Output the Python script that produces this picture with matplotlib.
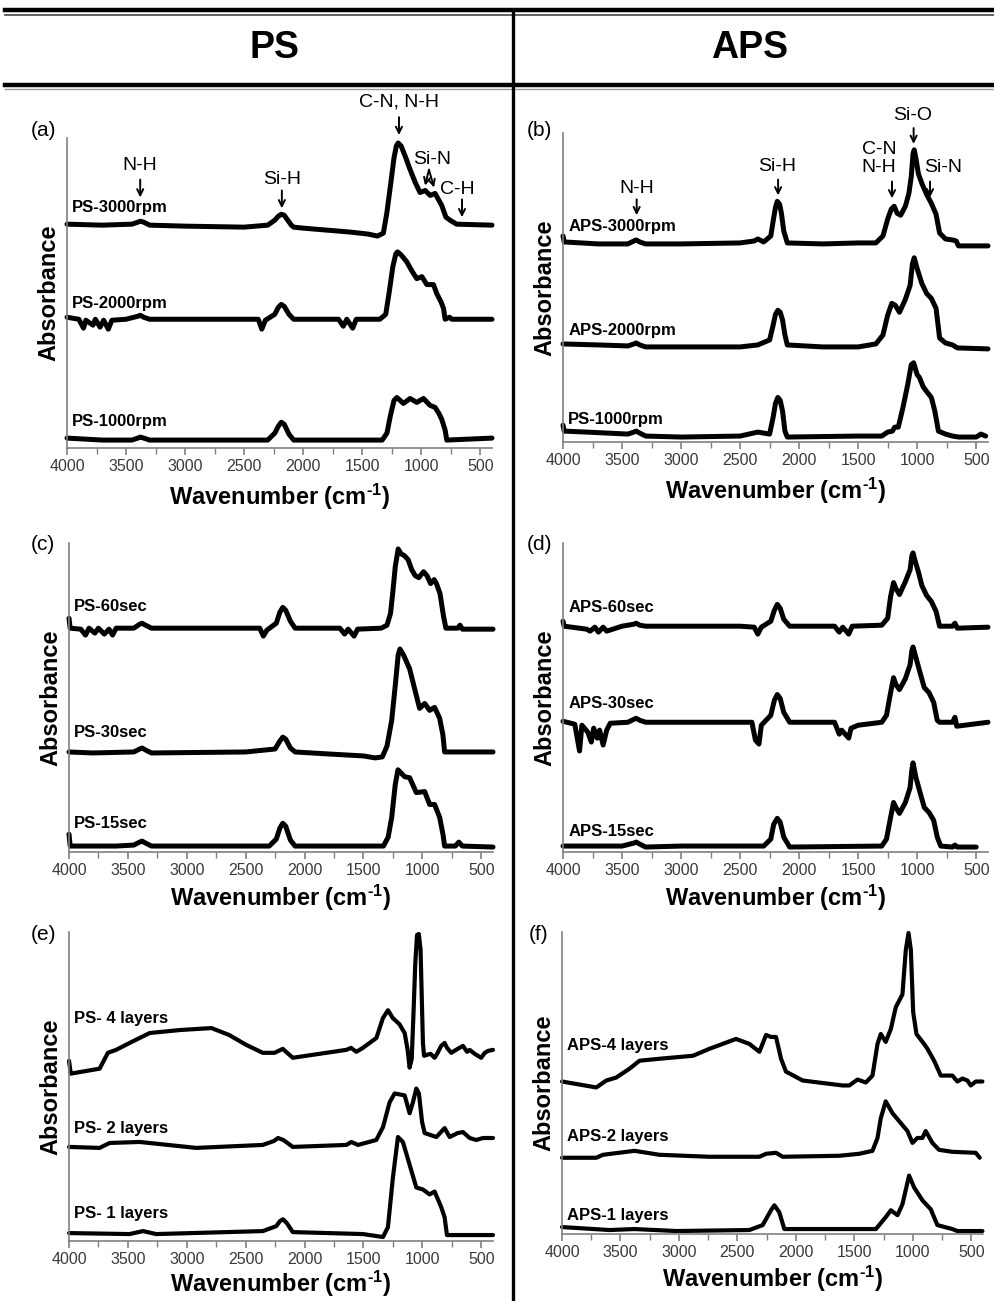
import numpy as np
import matplotlib
matplotlib.use("Agg")
import matplotlib.pyplot as plt
from matplotlib.lines import Line2D
from matplotlib.ticker import MultipleLocator

plt.rcParams['font.family'] = ['Liberation Sans', 'DejaVu Sans']
plt.rcParams['mathtext.fontset'] = 'custom'
plt.rcParams['mathtext.rm'] = 'Liberation Sans:bold'
plt.rcParams['mathtext.bf'] = 'Liberation Sans:bold'
plt.rcParams['mathtext.default'] = 'bf'

# spectra: (wavenumber cm-1, absorbance in arbitrary offset units)
# (a) PS, spin speed
ps_3000rpm = [(4000, 223), (3700, 222), (3450, 223), (3400, 225), (3380, 226), (3350, 225), (3300, 222),
              (3000, 221), (2500, 220), (2300, 222), (2240, 227), (2210, 231), (2185, 233), (2160, 232),
              (2130, 227), (2100, 222), (2080, 220), (2000, 219), (1800, 217), (1600, 215), (1450, 213),
              (1370, 211), (1320, 214), (1290, 235), (1260, 262), (1230, 290), (1210, 302), (1195, 305),
              (1170, 302), (1130, 290), (1100, 280), (1050, 265), (1010, 255), (966, 257), (924, 252),
              (882, 254), (826, 242), (790, 230), (755, 227), (700, 223), (400, 222)]
ps_2000rpm = [(4000, 129), (3900, 127), (3860, 118), (3840, 126), (3780, 121), (3760, 127), (3720, 119),
              (3690, 126), (3650, 117), (3620, 126), (3500, 127), (3400, 130), (3380, 131), (3350, 129),
              (3300, 127), (2500, 127), (2380, 127), (2350, 117), (2320, 126), (2240, 132), (2210, 139),
              (2185, 142), (2160, 140), (2120, 132), (2080, 127), (1700, 127), (1660, 120), (1630, 127),
              (1580, 118), (1550, 127), (1350, 127), (1300, 132), (1270, 155), (1240, 180), (1215, 193),
              (1200, 195), (1170, 192), (1122, 185), (1080, 176), (1037, 168), (994, 170), (952, 162),
              (896, 162), (868, 153), (830, 144), (811, 138), (797, 127), (760, 129), (740, 127), (400, 127)]
ps_1000rpm = [(4000, 7), (3700, 5), (3450, 5), (3400, 7), (3380, 8), (3350, 7), (3300, 5), (2300, 5),
              (2240, 12), (2210, 19), (2185, 23), (2160, 21), (2120, 11), (2080, 5), (1330, 5), (1290, 12),
              (1260, 30), (1230, 45), (1206, 48), (1150, 42), (1094, 47), (1037, 43), (981, 47), (924, 40),
              (882, 38), (850, 32), (826, 26), (797, 15), (783, 5), (400, 7)]

# (b) APS, spin speed
aps_3000rpm = [(4000, 205), (3990, 199), (3700, 197), (3450, 197), (3400, 200), (3380, 201), (3350, 199),
               (3300, 197), (3000, 197), (2500, 198), (2380, 200), (2350, 202), (2300, 199), (2240, 205),
               (2220, 220), (2200, 234), (2185, 240), (2165, 237), (2150, 228), (2130, 210), (2100, 198),
               (1800, 197), (1500, 198), (1350, 198), (1290, 205), (1250, 222), (1220, 232), (1195, 235),
               (1170, 228), (1140, 226), (1100, 235), (1070, 248), (1050, 265), (1035, 288), (1025, 292),
               (1010, 283), (990, 268), (960, 258), (920, 247), (880, 238), (840, 227), (810, 208),
               (760, 202), (700, 201), (670, 200), (650, 195), (400, 195)]
aps_2000rpm = [(4000, 96), (3700, 95), (3450, 94), (3400, 96), (3380, 97), (3350, 95), (3300, 93), (3000, 93),
               (2500, 93), (2350, 95), (2250, 100), (2220, 115), (2200, 126), (2180, 130), (2160, 128),
               (2140, 120), (2120, 105), (2100, 95), (1800, 93), (1500, 93), (1350, 96), (1290, 105),
               (1250, 125), (1215, 137), (1185, 135), (1150, 128), (1100, 141), (1060, 155), (1040, 177),
               (1025, 183), (1000, 172), (960, 157), (920, 147), (880, 142), (840, 132), (810, 102), (760, 97),
               (700, 95), (660, 92), (400, 91)]
ps_1000rpm_b = [(4000, 14), (3990, 8), (3800, 7), (3450, 5), (3400, 7), (3380, 8), (3350, 6), (3300, 3),
                (3000, 2), (2500, 3), (2350, 7), (2250, 5), (2220, 22), (2200, 36), (2180, 42), (2160, 39),
                (2140, 28), (2120, 8), (2100, 2), (1500, 3), (1300, 3), (1250, 7), (1210, 8), (1190, 12),
                (1160, 12), (1120, 32), (1080, 55), (1050, 75), (1030, 77), (1000, 65), (980, 62), (950, 53),
                (920, 48), (880, 42), (850, 28), (820, 8), (760, 5), (700, 3), (650, 2), (500, 2), (460, 5),
                (420, 3)]

# (c) PS, spin time
ps_60sec = [(4000, 233), (3990, 223), (3900, 222), (3860, 216), (3830, 223), (3780, 218), (3750, 223),
            (3700, 217), (3660, 222), (3630, 216), (3600, 223), (3450, 223), (3400, 227), (3380, 228),
            (3350, 226), (3300, 223), (2500, 223), (2380, 223), (2350, 215), (2320, 221), (2240, 228),
            (2210, 239), (2185, 244), (2160, 241), (2120, 230), (2080, 223), (1700, 223), (1660, 217),
            (1630, 222), (1580, 215), (1550, 222), (1350, 223), (1300, 226), (1270, 238), (1250, 260),
            (1230, 285), (1205, 303), (1180, 298), (1150, 296), (1120, 292), (1090, 282), (1060, 276),
            (1030, 274), (990, 280), (960, 276), (930, 268), (900, 272), (880, 268), (850, 258), (820, 235),
            (800, 223), (700, 223), (680, 226), (660, 222), (400, 222)]
ps_30sec = [(4000, 98), (3800, 97), (3450, 98), (3400, 101), (3380, 102), (3350, 100), (3300, 97), (2500, 98),
            (2250, 101), (2210, 109), (2185, 113), (2160, 111), (2120, 102), (2080, 98), (1800, 96), (1500, 94),
            (1400, 92), (1340, 93), (1300, 104), (1260, 130), (1230, 165), (1205, 196), (1190, 202),
            (1160, 196), (1108, 182), (1051, 155), (1023, 142), (980, 147), (938, 140), (896, 143), (853, 132),
            (825, 115), (811, 98), (400, 98)]
ps_15sec = [(4000, 15), (3990, 3), (3600, 3), (3450, 4), (3400, 7), (3380, 8), (3350, 6), (3300, 3), (2300, 3),
            (2240, 10), (2210, 21), (2185, 26), (2160, 23), (2120, 9), (2080, 3), (1330, 3), (1290, 12),
            (1260, 32), (1230, 65), (1207, 80), (1150, 73), (1108, 72), (1051, 57), (980, 58), (938, 45),
            (896, 45), (853, 32), (825, 15), (811, 3), (720, 3), (690, 7), (660, 3), (400, 2)]

# (d) APS, spin time
aps_60sec = [(4000, 230), (3990, 225), (3800, 222), (3770, 220), (3730, 224), (3700, 219), (3660, 224),
             (3630, 220), (3500, 225), (3400, 227), (3380, 228), (3350, 226), (3300, 225), (2500, 225),
             (2380, 224), (2350, 217), (2320, 224), (2240, 230), (2210, 241), (2185, 247), (2160, 243),
             (2130, 232), (2080, 225), (1700, 225), (1660, 219), (1630, 224), (1580, 217), (1550, 225),
             (1300, 226), (1250, 233), (1225, 255), (1200, 269), (1180, 263), (1150, 257), (1100, 270),
             (1060, 282), (1045, 296), (1035, 299), (1020, 292), (990, 280), (960, 266), (920, 256),
             (880, 250), (840, 240), (810, 225), (700, 225), (680, 228), (660, 223), (400, 224)]
aps_30sec = [(4000, 129), (3900, 126), (3860, 99), (3840, 125), (3790, 118), (3760, 108), (3740, 122),
             (3710, 112), (3690, 120), (3660, 105), (3630, 120), (3600, 127), (3450, 128), (3400, 131),
             (3380, 132), (3350, 130), (3300, 128), (2400, 128), (2370, 110), (2340, 106), (2320, 125),
             (2240, 135), (2210, 150), (2185, 156), (2160, 152), (2130, 138), (2080, 128), (1700, 128),
             (1660, 116), (1640, 120), (1580, 112), (1560, 122), (1500, 125), (1300, 128), (1260, 135),
             (1225, 158), (1200, 173), (1180, 166), (1150, 161), (1100, 172), (1060, 186), (1045, 200),
             (1035, 204), (1010, 193), (980, 180), (940, 163), (900, 158), (860, 148), (830, 130), (810, 128),
             (700, 128), (680, 133), (665, 124), (400, 128)]
aps_15sec = [(4000, 3), (3500, 3), (3400, 6), (3380, 7), (3350, 5), (3300, 2), (3000, 3), (2300, 3), (2240, 10),
             (2215, 25), (2185, 31), (2160, 27), (2130, 12), (2080, 2), (1300, 3), (1260, 10), (1225, 32),
             (1200, 47), (1180, 42), (1150, 36), (1100, 47), (1060, 62), (1045, 80), (1035, 87), (1010, 72),
             (980, 59), (940, 42), (900, 37), (860, 29), (830, 12), (800, 3), (700, 2), (680, 4), (660, 2),
             (500, 2)]

# (e) PS, number of layers
ps_4layers = [(4000, 179), (3985, 166), (3740, 171), (3670, 187), (3600, 190), (3485, 197), (3315, 207),
              (3060, 210), (2790, 212), (2640, 205), (2495, 195), (2355, 187), (2255, 187), (2185, 191),
              (2100, 182), (1930, 185), (1645, 190), (1605, 192), (1560, 188), (1505, 192), (1390, 202),
              (1335, 222), (1292, 230), (1250, 222), (1195, 216), (1150, 207), (1125, 190), (1108, 172),
              (1090, 181), (1075, 227), (1060, 277), (1045, 306), (1030, 307), (1015, 291), (1005, 244),
              (995, 197), (985, 184), (960, 185), (930, 186), (896, 182), (870, 187), (840, 194), (811, 197),
              (790, 192), (754, 187), (700, 191), (655, 194), (620, 188), (598, 190), (556, 186), (500, 182),
              (470, 187), (440, 189), (400, 190)]
ps_2layers = [(4000, 92), (3740, 91), (3655, 96), (3400, 97), (2920, 91), (2355, 94), (2260, 98), (2225, 101),
              (2180, 99), (2100, 92), (1645, 94), (1603, 97), (1546, 94), (1391, 99), (1334, 112), (1278, 137),
              (1235, 146), (1150, 144), (1108, 126), (1080, 137), (1051, 151), (1029, 146), (1002, 117),
              (980, 106), (881, 102), (811, 111), (768, 102), (700, 106), (655, 107), (598, 101), (542, 99),
              (485, 101), (400, 101)]
ps_1layers = [(4000, 5), (3485, 4), (3372, 7), (3260, 4), (2355, 7), (2240, 12), (2210, 17), (2183, 19),
              (2150, 15), (2100, 6), (1504, 4), (1334, 1), (1292, 11), (1250, 61), (1207, 102), (1165, 97),
              (1108, 74), (1051, 51), (995, 49), (938, 44), (896, 47), (839, 31), (811, 21), (791, 3), (400, 3)]

# (f) APS, number of layers
aps_4layers = [(4000, 151), (3707, 145), (3621, 152), (3536, 155), (3422, 164), (3337, 172), (3166, 174),
               (2880, 177), (2740, 184), (2512, 194), (2398, 189), (2312, 181), (2255, 198), (2213, 196),
               (2170, 196), (2127, 174), (2085, 161), (1942, 152), (1600, 147), (1544, 147), (1473, 153),
               (1402, 150), (1345, 157), (1302, 189), (1274, 199), (1232, 191), (1188, 204), (1146, 226),
               (1089, 239), (1060, 284), (1037, 301), (1017, 284), (997, 221), (969, 199), (904, 189),
               (875, 184), (818, 172), (761, 157), (662, 157), (619, 151), (576, 154), (533, 152), (505, 147),
               (462, 151), (405, 151)]
aps_2layers = [(4000, 74), (3707, 74), (3650, 77), (3380, 81), (3166, 77), (2740, 75), (2312, 75), (2255, 78),
               (2170, 79), (2113, 75), (1630, 76), (1459, 78), (1345, 81), (1302, 94), (1274, 114), (1232, 131),
               (1174, 119), (1089, 107), (1046, 101), (1003, 89), (961, 94), (918, 94), (890, 101), (833, 89),
               (776, 82), (662, 80), (462, 79), (428, 74)]
aps_1layers = [(4000, 4), (3593, 1), (3380, 2), (3024, 0), (2398, 1), (2284, 6), (2213, 21), (2184, 26),
               (2142, 19), (2099, 2), (1316, 2), (1232, 14), (1188, 21), (1131, 16), (1089, 27), (1032, 56),
               (989, 44), (918, 31), (847, 22), (790, 6), (662, 2), (619, 0), (405, 0)]

names_a = ["PS-3000rpm", "PS-2000rpm", "PS-1000rpm"]
names_b = ["APS-3000rpm", "APS-2000rpm", "PS-1000rpm"]
names_c = ["PS-60sec", "PS-30sec", "PS-15sec"]
names_d = ["APS-60sec", "APS-30sec", "APS-15sec"]
names_e = ["PS- 4 layers", "PS- 2 layers", "PS- 1 layers"]
names_f = ["APS-4 layers", "APS-2 layers", "APS-1 layers"]

W, H = 994, 1301
fig = plt.figure(figsize=(W / 100, H / 100), dpi=100)


def px_axes(l, t, r, b):
    return fig.add_axes([l / W, 1 - b / H, (r - l) / W, (b - t) / H])


def setup(ax, top, xlab_off):
    ax.set_xlim(4000, 400)
    ax.set_ylim(-3, top)
    ax.spines['top'].set_visible(False)
    ax.spines['right'].set_visible(False)
    for s in ['left', 'bottom']:
        ax.spines[s].set_color('#808080')
        ax.spines[s].set_linewidth(1.2)
    ax.set_yticks([])
    ax.set_xticks(np.arange(4000, 499, -500))
    ax.xaxis.set_minor_locator(MultipleLocator(250))
    ax.tick_params(axis='x', which='major', direction='out', length=5, width=1.2,
                   colors='#808080', labelcolor='#3a3a3a', labelsize=11.5, pad=3)
    ax.tick_params(axis='x', which='minor', direction='out', length=4, width=1.0, colors='#808080')
    ax.set_xlabel(r'Wavenumber (cm$^{\text{-1}}$)', fontsize=17, fontweight='bold')
    ax.xaxis.label.set_va('center')
    ax.xaxis.set_label_coords(0.5, -xlab_off / (top + 3.0))
    ax.set_ylabel('Absorbance', fontsize=17, fontweight='bold')
    ax.yaxis.label.set_va('center')
    ax.yaxis.set_label_coords(-0.042, 0.5)


def spec(ax, data, lw=3.6):
    wn, a = np.array(data, dtype=float).T
    ax.plot(wn, a, color='black', lw=lw, solid_joinstyle='round', solid_capstyle='round', clip_on=False)


def arrow(ax, x, y0, y1, x1=None):
    if x1 is None:
        x1 = x
    ax.annotate('', xy=(x1, y1), xytext=(x, y0), annotation_clip=False,
                arrowprops=dict(arrowstyle='->', lw=1.4, color='black', mutation_scale=11,
                                shrinkA=0, shrinkB=0))


def note(ax, x, y, s, ha='center'):
    ax.text(x, y, s, ha=ha, va='center', fontsize=14, clip_on=False)


def name(ax, y, s):
    ax.text(3955, y, s, ha='left', va='center', fontsize=12, fontweight='bold')


# panel (a)
ax = px_axes(67, 138, 492, 448)
setup(ax, 310, 49)
for d in [ps_3000rpm, ps_2000rpm, ps_1000rpm]:
    spec(ax, d)
for y, s in zip([240, 143, 24], names_a):
    name(ax, y, s)
note(ax, 3380, 282, 'N-H'); arrow(ax, 3380, 268, 250)
note(ax, 2180, 268, 'Si-H'); arrow(ax, 2180, 257, 239)
note(ax, 1188, 346, 'C-N, N-H'); arrow(ax, 1188, 331, 313)
note(ax, 905, 288, 'Si-N'); arrow(ax, 934, 278, 262, 967); arrow(ax, 934, 278, 260, 891)
note(ax, 690, 258, 'C-H'); arrow(ax, 654, 248, 230)

# panel (b)
ax = px_axes(563, 133, 988, 442)
setup(ax, 309, 49)
for d in [aps_3000rpm, aps_2000rpm, ps_1000rpm_b]:
    spec(ax, d)
for y, s in zip([215, 110, 20], names_b):
    name(ax, y, s)
note(ax, 3376, 253, 'N-H'); arrow(ax, 3376, 242, 226)
note(ax, 2185, 275, 'Si-H'); arrow(ax, 2178, 262, 246)
note(ax, 1035, 327, 'Si-O'); arrow(ax, 1030, 314, 298)
note(ax, 1175, 292, 'C-N', ha='right'); note(ax, 1175, 274, 'N-H', ha='right')
arrow(ax, 1213, 260, 243)
note(ax, 781, 274, 'Si-N'); arrow(ax, 891, 260, 244)

# panel (c)
ax = px_axes(69, 543, 493, 852)
setup(ax, 309, 46)
for d in [ps_60sec, ps_30sec, ps_15sec]:
    spec(ax, d)
for y, s in zip([245, 118, 26], names_c):
    name(ax, y, s)

# panel (d)
ax = px_axes(563, 543, 988, 852)
setup(ax, 309, 46)
for d in [aps_60sec, aps_30sec, aps_15sec]:
    spec(ax, d)
for y, s in zip([244, 147, 18], names_d):
    name(ax, y, s)

# panel (e)
ax = px_axes(69, 932, 493, 1241)
setup(ax, 309, 43)
for d in [ps_4layers, ps_2layers, ps_1layers]:
    spec(ax, d, lw=3.0)
for y, s in zip([222, 111, 25], names_e):
    name(ax, y, s)

# panel (f)
ax = px_axes(562, 932, 983, 1234)
setup(ax, 302, 45)
for d in [aps_4layers, aps_2layers, aps_1layers]:
    spec(ax, d, lw=3.0)
for y, s in zip([187, 95, 16], names_f):
    name(ax, y, s)

# panel letters
for x, y, s in [(43, 130, '(a)'), (539, 130, '(b)'), (43, 545, '(c)'),
                (539, 545, '(d)'), (44, 935, '(e)'), (539, 935, '(f)')]:
    fig.text(x / W, 1 - y / H, s, ha='center', va='center', fontsize=15)

# table frame: double rule on top, header rule, column divider
fig.add_artist(Line2D([5 / W, 1], [1 - 10 / H] * 2, color='black', lw=3.2))
fig.add_artist(Line2D([5 / W, 1], [1 - 15 / H] * 2, color='#555555', lw=1.3))
fig.add_artist(Line2D([5 / W, 1], [1 - 85 / H] * 2, color='black', lw=3.2))
fig.add_artist(Line2D([5 / W, 1], [1 - 89 / H] * 2, color='#999999', lw=1.0))
fig.add_artist(Line2D([513 / W] * 2, [0, 1 - 12 / H], color='black', lw=2.4))
fig.text(275 / W, 1 - 48 / H, 'PS', ha='center', va='center', fontsize=27, fontweight='bold')
fig.text(750 / W, 1 - 48 / H, 'APS', ha='center', va='center', fontsize=27, fontweight='bold')

fig.savefig('out.png', dpi=100)
